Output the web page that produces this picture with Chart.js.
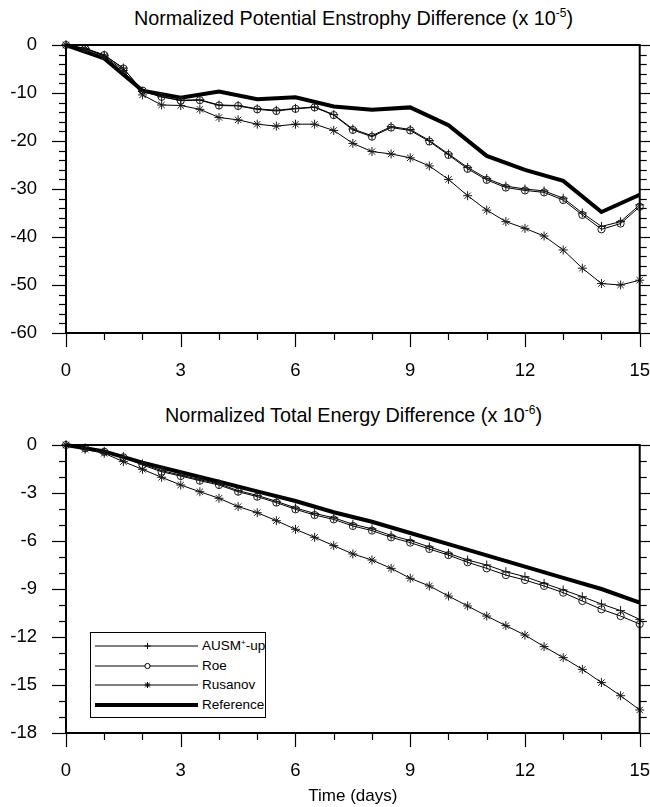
<!DOCTYPE html>
<html>
<head>
<meta charset="utf-8">
<script src="https://cdn.jsdelivr.net/npm/chart.js@4/dist/chart.umd.min.js"></script>
<style>
  html, body { margin: 0; padding: 0; background: #fff; }
  #page { position: relative; width: 650px; height: 807px; overflow: hidden; font-family: "Liberation Sans", Arial, Helvetica, sans-serif; color: #000; }
  .box { position: absolute; left: 0; width: 650px; }
  .ttl { position: absolute; left: 66px; width: 575px; text-align: center; font-size: 19.8px; line-height: 22px; white-space: nowrap; }
  .ttl sup { font-size: 12px; vertical-align: 0; position: relative; top: -8px; }
  #legend { position: absolute; left: 90px; top: 632px; width: 176px; height: 86px; border: 1px solid #000; background: #fff; box-sizing: border-box; }
  #legend svg { position: absolute; left: 0; top: 0; }
  #legend .lt { position: absolute; left: 111px; font-size: 13.5px; line-height: 16px; white-space: nowrap; }
  #legend .lt sup { font-size: 8px; vertical-align: 0; position: relative; top: -5px; }
</style>
</head>
<body>
<div id="page">
  <div class="ttl" style="top:7px">Normalized Potential Enstrophy Difference (x 10<sup>-5</sup>)</div>
  <div class="box" style="top:0;height:390px"><canvas id="c1"></canvas></div>
  <div class="ttl" style="top:404px">Normalized Total Energy Difference (x 10<sup>-6</sup>)</div>
  <div class="box" style="top:390px;height:417px"><canvas id="c2"></canvas></div>
  <div id="legend">
    <svg width="176" height="86" id="legsvg"></svg>
    <div class="lt" style="top:5px">AUSM<sup>+</sup>-up</div>
    <div class="lt" style="top:25px">Roe</div>
    <div class="lt" style="top:44px">Rusanov</div>
    <div class="lt" style="top:64px">Reference</div>
  </div>
</div>
<script>
// ---------------- data ----------------
const halfDays = [0,0.5,1,1.5,2,2.5,3,3.5,4,4.5,5,5.5,6,6.5,7,7.5,8,8.5,9,9.5,10,10.5,11,11.5,12,12.5,13,13.5,14,14.5,15];
const refDays  = [0,1,2,3,4,5,6,7,8,9,10,11,12,13,14,15];

// Normalized potential enstrophy difference (x 1e-5)
const peAusm = [0,-0.7,-2.1,-4.8,-9.7,-10.8,-11.5,-11.4,-12.5,-12.6,-13.3,-13.6,-13.2,-12.9,-14.5,-17.5,-18.9,-17.0,-17.6,-19.9,-22.7,-25.5,-27.8,-29.4,-30.0,-30.4,-31.9,-35.0,-37.8,-36.8,-33.3];
const peRoe  = [0,-0.7,-2.1,-4.9,-9.5,-10.8,-11.6,-11.5,-12.6,-12.7,-13.4,-13.75,-13.3,-13.0,-14.6,-17.7,-19.1,-17.2,-17.8,-20.1,-22.9,-25.8,-28.1,-29.7,-30.3,-30.7,-32.3,-35.4,-38.4,-37.2,-33.7];
const peRus  = [0,-0.8,-2.3,-5.3,-10.4,-12.5,-12.6,-13.4,-15.1,-15.6,-16.5,-16.9,-16.5,-16.5,-17.8,-20.5,-22.2,-22.7,-23.5,-25.2,-28.0,-31.4,-34.4,-36.8,-38.2,-39.8,-42.7,-46.5,-49.7,-50.0,-49.0];
const peRef  = [0,-2.8,-9.5,-11.0,-9.7,-11.3,-10.9,-12.8,-13.5,-13.0,-16.7,-23.1,-26.0,-28.3,-34.8,-31.2];

// Normalized total energy difference (x 1e-6)
const teAusm = [0,-0.18,-0.4,-0.72,-1.18,-1.6,-1.88,-2.17,-2.43,-2.85,-3.15,-3.52,-3.93,-4.28,-4.55,-4.95,-5.24,-5.65,-5.97,-6.37,-6.77,-7.19,-7.5,-7.92,-8.23,-8.65,-9.06,-9.48,-9.94,-10.35,-10.9];
const teRoe  = [0,-0.2,-0.42,-0.77,-1.25,-1.67,-1.94,-2.23,-2.5,-2.92,-3.23,-3.6,-4.02,-4.38,-4.65,-5.06,-5.35,-5.77,-6.1,-6.5,-6.88,-7.33,-7.71,-8.13,-8.44,-8.81,-9.23,-9.75,-10.27,-10.69,-11.19];
const teRus  = [0,-0.27,-0.52,-1.04,-1.52,-2.02,-2.5,-2.92,-3.33,-3.85,-4.23,-4.73,-5.27,-5.77,-6.29,-6.81,-7.19,-7.71,-8.33,-8.81,-9.44,-10.06,-10.69,-11.29,-11.88,-12.6,-13.29,-14.02,-14.85,-15.67,-16.56];
const teRef  = [0,-0.4,-1.1,-1.7,-2.3,-2.9,-3.5,-4.2,-4.8,-5.5,-6.2,-6.9,-7.6,-8.3,-9.0,-9.85];

// tick labels
const xTicks   = [0,3,6,9,12,15];
const peYTicks = [0,-10,-20,-30,-40,-50,-60];
const teYTicks = [0,-3,-6,-9,-12,-15,-18];

const seriesNames = ['AUSM+-up','Roe','Rusanov','Reference'];

// ---------------- helpers ----------------
const FONT = '"Liberation Sans", Arial, Helvetica, sans-serif';
const pts = (xs, ys) => xs.map((x, i) => ({x, y: ys[i]}));

const frame = {
  id: 'frame',
  afterDraw(chart, args, o) {
    const {ctx, chartArea: a, scales: {x, y}} = chart;
    ctx.save();
    ctx.strokeStyle = '#000';
    ctx.lineWidth = 1.2;
    const line = (x1, y1, x2, y2) => { ctx.beginPath(); ctx.moveTo(x1, y1); ctx.lineTo(x2, y2); ctx.stroke(); };
    const isMajor = (v, m) => Math.abs(v / m - Math.round(v / m)) < 1e-6;
    for (let k = 0; x.min + k * o.xMinor <= x.max + 1e-9; k++) {
      const v = x.min + k * o.xMinor, px = Math.round(x.getPixelForValue(v)) + 0.5;
      line(px, a.bottom, px, a.bottom + (isMajor(v, o.xMajor) ? 14 : 7));
    }
    for (let k = 0; y.min + k * o.yMinor <= y.max + 1e-9; k++) {
      const v = y.min + k * o.yMinor, py = Math.round(y.getPixelForValue(v)) + 0.5;
      const len = isMajor(v, o.yMajor) ? 14 : 7;
      line(a.left - len, py, a.left, py);
      line(a.right, py, a.right + len, py);
    }
    ctx.lineWidth = 2;
    ctx.strokeRect(a.left, a.top, a.right - a.left, a.bottom - a.top);
    ctx.restore();
  }
};

const hiddenGrid = {display: true, drawOnChartArea: false, drawTicks: true, color: 'rgba(0,0,0,0)', tickColor: 'rgba(0,0,0,0)'};

function makeChart(id, data, opt) {
  const [ausm, roe, rus, ref] = data;
  const thin = {borderColor: '#000', borderWidth: 1, tension: 0, clip: false,
                pointBorderColor: '#1a1a1a', pointBackgroundColor: 'rgba(0,0,0,0)', pointBorderWidth: 1, pointHoverRadius: 0};
  return new Chart(document.getElementById(id), {
    type: 'line',
    data: {
      datasets: [
        Object.assign({label: seriesNames[0], data: pts(halfDays, ausm), pointStyle: 'cross', pointRadius: 4.5}, thin),
        Object.assign({label: seriesNames[1], data: pts(halfDays, roe), pointStyle: 'circle', pointRadius: 3.6}, thin),
        Object.assign({label: seriesNames[2], data: pts(halfDays, rus), pointStyle: 'star', pointRadius: 4.5}, thin),
        {label: seriesNames[3], data: pts(refDays, ref), borderColor: '#000', borderWidth: 4, pointRadius: 0, tension: 0, clip: false,
         borderJoinStyle: 'miter'}
      ]
    },
    options: {
      responsive: true, maintainAspectRatio: false, animation: false,
      layout: {padding: {top: opt.top, right: 9, left: 0, bottom: 0}},
      plugins: {legend: {display: false}, title: {display: false}, tooltip: {enabled: false},
                frame: {xMinor: 1, xMajor: 3, yMinor: opt.yMinor, yMajor: opt.yMajor}},
      scales: {
        x: {type: 'linear', min: 0, max: 15,
            afterBuildTicks: s => { s.ticks = xTicks.map(v => ({value: v})); },
            afterFit: s => { s.height = opt.xh; },
            grid: Object.assign({tickLength: 27}, hiddenGrid), border: {display: false},
            ticks: {font: {family: FONT, size: 18.5}, color: '#000', padding: 0, maxRotation: 0, autoSkip: false},
            title: opt.xTitle ? {display: true, text: opt.xTitle, color: '#000', font: {family: FONT, size: 17}, padding: {top: 0, bottom: 0}} : {display: false}},
        y: {min: opt.ymin, max: 0,
            afterBuildTicks: s => { s.ticks = opt.yTicks.map(v => ({value: v})); },
            afterFit: s => { s.width = 66; },
            grid: Object.assign({tickLength: 29}, hiddenGrid), border: {display: false},
            ticks: {font: {family: FONT, size: 18.5}, color: '#000', padding: 0, autoSkip: false}}
      }
    },
    plugins: [frame]
  });
}

makeChart('c1', [peAusm, peRoe, peRus, peRef], {top: 45, xh: 57, ymin: -60, yTicks: peYTicks, yMinor: 2, yMajor: 10});
makeChart('c2', [teAusm, teRoe, teRus, teRef], {top: 55, xh: 74, ymin: -18, yTicks: teYTicks, yMinor: 1, yMajor: 3, xTitle: 'Time (days)'});

// ---------------- legend samples ----------------
(function () {
  const svg = document.getElementById('legsvg');
  const NS = 'http://www.w3.org/2000/svg';
  const add = (tag, attrs) => { const e = document.createElementNS(NS, tag); for (const k in attrs) e.setAttribute(k, attrs[k]); svg.appendChild(e); return e; };
  const rows = [13, 33, 52, 72];
  const x1 = 4, x2 = 107, mx = 56.5;
  rows.forEach((cy, i) => {
    add('line', {x1, y1: cy, x2, y2: cy, stroke: '#000', 'stroke-width': i === 3 ? 4 : 1});
  });
  const s = 3;
  add('path', {d: `M${mx - s},${rows[0]}H${mx + s}M${mx},${rows[0] - s}V${rows[0] + s}`, stroke: '#000', 'stroke-width': 1, fill: 'none'});
  add('circle', {cx: mx, cy: rows[1], r: 2.6, stroke: '#000', 'stroke-width': 1, fill: '#fff'});
  const c = rows[2], d = 2.3;
  add('path', {d: `M${mx - s},${c}H${mx + s}M${mx},${c - s}V${c + s}M${mx - d},${c - d}L${mx + d},${c + d}M${mx - d},${c + d}L${mx + d},${c - d}`, stroke: '#000', 'stroke-width': 1, fill: 'none'});
})();
</script>
</body>
</html>
